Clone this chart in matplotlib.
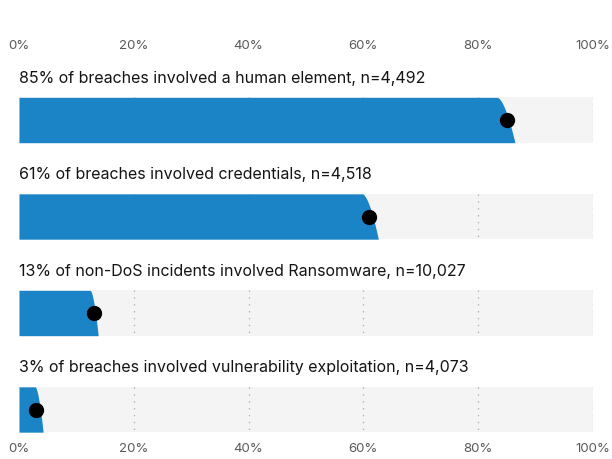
import numpy as np
import matplotlib
matplotlib.use("Agg")
import matplotlib.pyplot as plt

titles = [
    "85% of breaches involved a human element, n=4,492",
    "61% of breaches involved credentials, n=4,518",
    "13% of non-DoS incidents involved Ransomware, n=10,027",
    "3% of breaches involved vulnerability exploitation, n=4,073",
]
values = [85, 61, 13, 3]
ci_low = [83.3, 59.8, 12.4, 2.8]
ci_high = [86.4, 62.6, 13.8, 4.2]
ticks = [0, 20, 40, 60, 80, 100]
tick_labels = ["0%", "20%", "40%", "60%", "80%", "100%"]

BLUE = "#1a84c7"
GRAY = "#f4f4f4"

plt.rcParams['font.family'] = ['Inter', 'DejaVu Sans']

fig = plt.figure(figsize=(6.12, 4.59), dpi=100)
W, H = 612, 459
ax = fig.add_axes([19 / W, 19 / H, 574 / W, 388 / H])
ax.set_xlim(0, 100)
ax.set_ylim(3.316, -0.705)

bh = 0.47
for i, v in enumerate(values):
    top, bot = i - bh / 2, i + bh / 2
    ax.fill_between([0, 100], top, bot, color=GRAY, lw=0, zorder=1)
    for t in ticks[1:]:
        ax.plot([t, t], [top, bot], color="#a8a8a8", lw=0.9, ls=(0, (1.0, 4.5)), zorder=2)
    u = np.linspace(0, 1, 100)
    yy = top + u * (bot - top)
    edge = ci_low[i] + (ci_high[i] - ci_low[i]) * u ** 0.6
    ax.fill_betweenx(yy, 0, edge, color=BLUE, lw=0, zorder=3)
    ax.plot([v], [i], 'o', color="black", ms=10, zorder=4)
    ax.text(0, i - 0.435, titles[i], fontsize=11.5, color="#141414", va="center", ha="left")

ax.set_xticks(ticks)
ax.set_xticklabels(tick_labels)
ax.tick_params(axis="x", length=0, labelsize=9.5, labelcolor="#5a5a5a", pad=2)
ax.set_yticks([])
for s in ax.spines.values():
    s.set_visible(False)

sec = ax.secondary_xaxis('top')
sec.set_xticks(ticks)
sec.set_xticklabels(tick_labels)
sec.tick_params(axis="x", length=0, labelsize=9.5, labelcolor="#5a5a5a", pad=0)
for s in sec.spines.values():
    s.set_visible(False)

fig.savefig("out.png", dpi=100)
